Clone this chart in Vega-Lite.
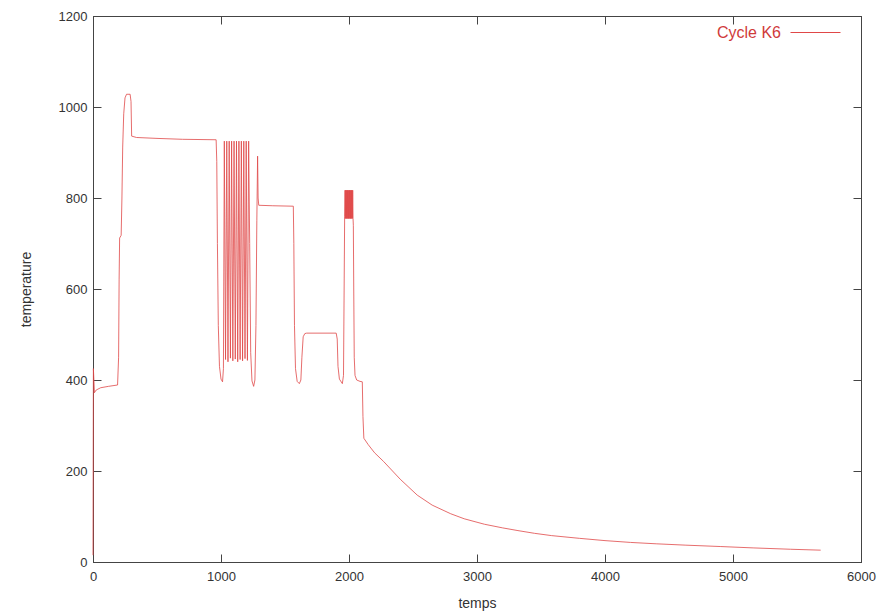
{
  "$schema": "https://vega.github.io/schema/vega-lite/v6.json",
  "width": 768,
  "height": 546,
  "autosize": {"type": "none"},
  "padding": {"left": 93, "top": 16, "right": 23, "bottom": 54},
  "background": "white",
  "config": {
    "view": {"stroke": "#444", "strokeWidth": 1},
    "font": "Liberation Sans",
    "axis": {
      "labelFont": "Liberation Sans",
      "labelFontSize": 13,
      "labelColor": "#333",
      "titleFont": "Liberation Sans",
      "titleFontSize": 14,
      "titleFontWeight": "normal",
      "titleColor": "#333",
      "domainColor": "#444",
      "tickColor": "#444",
      "grid": false,
      "tickSize": -8,
      "labelFlush": false
    }
  },
  "data": {
    "values": [
      {"temps": 0, "temperature": 15},
      {"temps": 3, "temperature": 425},
      {"temps": 7, "temperature": 400},
      {"temps": 11, "temperature": 372},
      {"temps": 25, "temperature": 378},
      {"temps": 60, "temperature": 383},
      {"temps": 120, "temperature": 386},
      {"temps": 192, "temperature": 389},
      {"temps": 200, "temperature": 450},
      {"temps": 204, "temperature": 620},
      {"temps": 208, "temperature": 712},
      {"temps": 220, "temperature": 718},
      {"temps": 226, "temperature": 800},
      {"temps": 232, "temperature": 912},
      {"temps": 240, "temperature": 985},
      {"temps": 250, "temperature": 1020},
      {"temps": 262, "temperature": 1028},
      {"temps": 290, "temperature": 1028},
      {"temps": 297, "temperature": 1012},
      {"temps": 302, "temperature": 936},
      {"temps": 340, "temperature": 933},
      {"temps": 500, "temperature": 931},
      {"temps": 700, "temperature": 929},
      {"temps": 962, "temperature": 928},
      {"temps": 967, "temperature": 880},
      {"temps": 972, "temperature": 700},
      {"temps": 979, "temperature": 520},
      {"temps": 988, "temperature": 430},
      {"temps": 1000, "temperature": 402},
      {"temps": 1012, "temperature": 396},
      {"temps": 1019, "temperature": 425},
      {"temps": 1026, "temperature": 925},
      {"temps": 1035.5, "temperature": 445},
      {"temps": 1045, "temperature": 925},
      {"temps": 1054.5, "temperature": 440},
      {"temps": 1064, "temperature": 925},
      {"temps": 1073.5, "temperature": 448},
      {"temps": 1083, "temperature": 925},
      {"temps": 1092.5, "temperature": 442},
      {"temps": 1102, "temperature": 925},
      {"temps": 1111.5, "temperature": 446},
      {"temps": 1121, "temperature": 925},
      {"temps": 1130.5, "temperature": 440},
      {"temps": 1140, "temperature": 925},
      {"temps": 1149.5, "temperature": 445},
      {"temps": 1159, "temperature": 925},
      {"temps": 1168.5, "temperature": 442},
      {"temps": 1178, "temperature": 925},
      {"temps": 1187.5, "temperature": 447},
      {"temps": 1197, "temperature": 925},
      {"temps": 1206.5, "temperature": 443},
      {"temps": 1216, "temperature": 925},
      {"temps": 1224, "temperature": 700},
      {"temps": 1232, "temperature": 460},
      {"temps": 1242, "temperature": 398},
      {"temps": 1255, "temperature": 386},
      {"temps": 1265, "temperature": 400},
      {"temps": 1273, "temperature": 520},
      {"temps": 1280, "temperature": 750},
      {"temps": 1286, "temperature": 892},
      {"temps": 1290, "temperature": 800},
      {"temps": 1295, "temperature": 784},
      {"temps": 1400, "temperature": 783},
      {"temps": 1565, "temperature": 782},
      {"temps": 1569, "temperature": 700},
      {"temps": 1574, "temperature": 520},
      {"temps": 1582, "temperature": 425},
      {"temps": 1595, "temperature": 397},
      {"temps": 1612, "temperature": 392},
      {"temps": 1624, "temperature": 400},
      {"temps": 1632, "temperature": 450},
      {"temps": 1642, "temperature": 495},
      {"temps": 1655, "temperature": 502},
      {"temps": 1669, "temperature": 503},
      {"temps": 1900, "temperature": 503},
      {"temps": 1908, "temperature": 490},
      {"temps": 1914, "temperature": 430},
      {"temps": 1925, "temperature": 402},
      {"temps": 1948, "temperature": 392},
      {"temps": 1957, "temperature": 410},
      {"temps": 1962, "temperature": 600},
      {"temps": 1966, "temperature": 760},
      {"temps": 1969, "temperature": 817},
      {"temps": 1971.5, "temperature": 755},
      {"temps": 1974, "temperature": 817},
      {"temps": 1976.5, "temperature": 755},
      {"temps": 1979, "temperature": 817},
      {"temps": 1981.5, "temperature": 755},
      {"temps": 1984, "temperature": 817},
      {"temps": 1986.5, "temperature": 755},
      {"temps": 1989, "temperature": 817},
      {"temps": 1991.5, "temperature": 755},
      {"temps": 1994, "temperature": 817},
      {"temps": 1996.5, "temperature": 755},
      {"temps": 1999, "temperature": 817},
      {"temps": 2001.5, "temperature": 755},
      {"temps": 2004, "temperature": 817},
      {"temps": 2006.5, "temperature": 755},
      {"temps": 2009, "temperature": 817},
      {"temps": 2011.5, "temperature": 755},
      {"temps": 2014, "temperature": 817},
      {"temps": 2016.5, "temperature": 755},
      {"temps": 2019, "temperature": 817},
      {"temps": 2021.5, "temperature": 755},
      {"temps": 2024, "temperature": 817},
      {"temps": 2026.5, "temperature": 755},
      {"temps": 2029, "temperature": 817},
      {"temps": 2031.5, "temperature": 755},
      {"temps": 2034, "temperature": 740},
      {"temps": 2037, "temperature": 600},
      {"temps": 2041, "temperature": 450},
      {"temps": 2047, "temperature": 410},
      {"temps": 2060, "temperature": 400},
      {"temps": 2086, "temperature": 397},
      {"temps": 2104, "temperature": 396},
      {"temps": 2109, "temperature": 320},
      {"temps": 2116, "temperature": 272},
      {"temps": 2150, "temperature": 258},
      {"temps": 2200, "temperature": 240},
      {"temps": 2270, "temperature": 221},
      {"temps": 2400, "temperature": 182},
      {"temps": 2533, "temperature": 147},
      {"temps": 2650, "temperature": 125},
      {"temps": 2795, "temperature": 106},
      {"temps": 2900, "temperature": 95},
      {"temps": 3058, "temperature": 83},
      {"temps": 3200, "temperature": 75},
      {"temps": 3320, "temperature": 69},
      {"temps": 3450, "temperature": 63},
      {"temps": 3583, "temperature": 58},
      {"temps": 3800, "temperature": 52},
      {"temps": 4000, "temperature": 47},
      {"temps": 4200, "temperature": 43},
      {"temps": 4400, "temperature": 40},
      {"temps": 4632, "temperature": 37},
      {"temps": 4900, "temperature": 34},
      {"temps": 5157, "temperature": 31},
      {"temps": 5450, "temperature": 28},
      {"temps": 5685, "temperature": 26}
    ]
  },
  "layer": [
    {
      "mark": {"type": "line", "strokeWidth": 0.8},
      "encoding": {
        "x": {
          "field": "temps",
          "type": "quantitative",
          "scale": {"domain": [0, 6000], "nice": false, "zero": false},
          "axis": {
            "orient": "bottom",
            "values": [0, 1000, 2000, 3000, 4000, 5000, 6000],
            "title": "temps",
            "labelPadding": 16,
            "titlePadding": 13,
            "format": "d"
          }
        },
        "y": {
          "field": "temperature",
          "type": "quantitative",
          "scale": {"domain": [0, 1200], "nice": false, "zero": false},
          "axis": {
            "orient": "left",
            "values": [0, 200, 400, 600, 800, 1000, 1200],
            "title": "temperature",
            "labelPadding": 14,
            "titlePadding": 25,
            "format": "d"
          }
        },
        "color": {
          "datum": "Cycle K6",
          "scale": {"range": ["#e04848"]},
          "legend": {
            "orient": "none",
            "legendX": 697,
            "legendY": -9,
            "title": null,
            "symbolType": "stroke",
            "symbolSize": 2500,
            "symbolStrokeWidth": 1,
            "labelColor": "#d03a3a",
            "labelFontSize": 16,
            "labelFont": "Liberation Sans",
            "labelAlign": "right",
            "labelOffset": -60,
            "padding": 0
          }
        }
      }
    },
    {
      "mark": {"type": "point", "opacity": 0},
      "encoding": {
        "x": {
          "field": "temps",
          "type": "quantitative",
          "axis": {
            "orient": "top",
            "values": [0, 1000, 2000, 3000, 4000, 5000, 6000],
            "labels": false,
            "title": null
          }
        },
        "y": {
          "field": "temperature",
          "type": "quantitative",
          "axis": {
            "orient": "right",
            "values": [0, 200, 400, 600, 800, 1000, 1200],
            "labels": false,
            "title": null
          }
        }
      }
    }
  ],
  "resolve": {"axis": {"x": "independent", "y": "independent"}}
}
